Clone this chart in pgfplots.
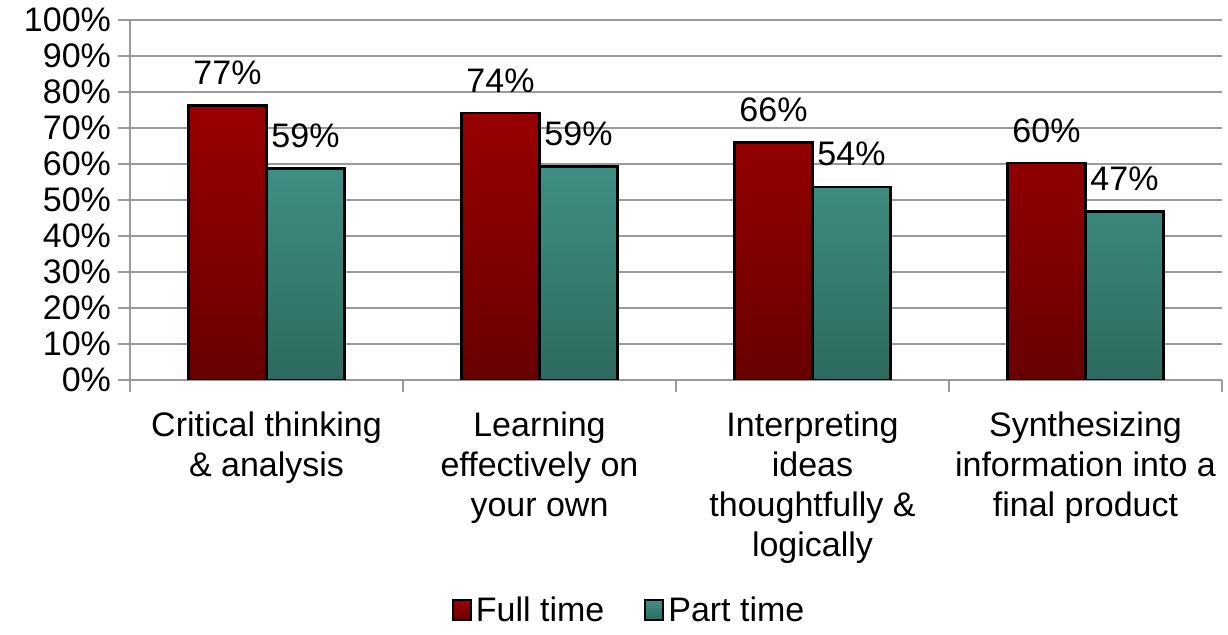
\documentclass[border=0pt]{standalone}
\usepackage{pgfplots}
\pgfplotsset{compat=1.18}
\usepackage{fontspec}
\setmainfont{Liberation Sans}
\definecolor{redtop}{HTML}{9A0000}
\definecolor{redbot}{HTML}{680000}
\definecolor{tealtop}{HTML}{3F8F83}
\definecolor{tealbot}{HTML}{2D6A5F}
\definecolor{gridgray}{HTML}{9A9A9A}
\begin{document}
\begin{tikzpicture}
\useasboundingbox (-65pt,-127.5pt) rectangle (549pt,190pt);
\begin{axis}[
  at={(0,0)}, anchor=south west,
  scale only axis, width=546pt, height=180pt,
  ybar=0pt, bar width=39pt,
  xmin=-0.5, xmax=3.5, ymin=0, ymax=100,
  axis x line*=bottom, axis y line*=left,
  axis line style={draw=gridgray, line width=1pt, -},
  ytick={0,10,...,100},
  yticklabel={\pgfmathprintnumber{\tick}\%},
  /pgf/number format/assume math mode=true,
  ymajorgrids, grid style={draw=gridgray, line width=1pt},
  major tick style={draw=gridgray, line width=1pt},
  tick align=outside, major tick length=6pt,
  xtick={-0.5,0.5,1.5,2.5,3.5},
  xticklabels={},
  extra x ticks={0,1,2,3},
  extra x tick labels={Critical thinking\\\& analysis, Learning\\effectively on\\your own, Interpreting\\ideas\\thoughtfully \&\\logically, Synthesizing\\information into a\\final product},
  extra x tick style={grid=none, major tick length=0pt, tick label style={align=center, yshift=-12.5pt}},
  tick label style={font=\fontsize{17}{20}\selectfont},
  nodes near coords,
  point meta=explicit symbolic,
  every node near coord/.append style={font=\fontsize{17}{20}\selectfont, anchor=south, yshift=6.5pt, text=black},
  legend style={at={(0.458,-0.64)}, anchor=center, draw=none, legend columns=2,
    font=\fontsize{17}{20}\selectfont, /tikz/every even column/.append style={column sep=18pt}},
  legend image code/.code={\draw[#1, draw=black, line width=1pt] (0pt,-5pt) rectangle (9pt,5pt);},
  legend cell align=left,
]
\addplot[draw=black, line width=1.2pt, top color=redtop, bottom color=redbot] coordinates {
  (0,76.3) [77\%] (1,74.1) [74\%] (2,66.0) [66\%] (3,60.2) [60\%]};
\addplot[draw=black, line width=1.2pt, top color=tealtop, bottom color=tealbot] coordinates {
  (0,58.7) [59\%] (1,59.3) [59\%] (2,53.6) [54\%] (3,46.8) [47\%]};
\legend{Full time, Part time}
\end{axis}
\end{tikzpicture}
\end{document}
